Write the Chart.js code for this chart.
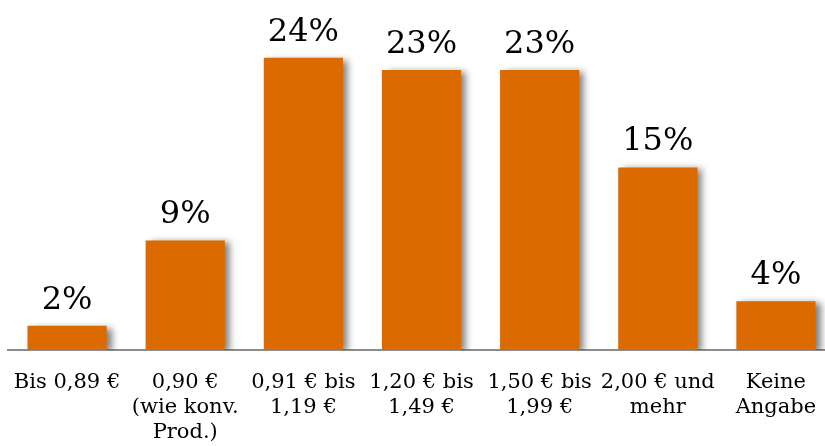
<!DOCTYPE html>
<html>
<head>
<meta charset="utf-8">
<script src="https://cdn.jsdelivr.net/npm/chart.js@4/dist/chart.umd.min.js"></script>
<style>
  html, body { margin: 0; padding: 0; background: #fff; overflow: hidden; }
  #wrap { width: 835px; height: 446px; }
</style>
</head>
<body>
<div id="wrap"><canvas id="chart"></canvas></div>
<script>
// categories (multi-line labels) and shares in percent
const categories = [
  ['Bis 0,89 €'],
  ['0,90 €', '(wie konv.', 'Prod.)'],
  ['0,91 € bis', '1,19 €'],
  ['1,20 € bis', '1,49 €'],
  ['1,50 € bis', '1,99 €'],
  ['2,00 € und', 'mehr'],
  ['Keine', 'Angabe']
];
const shares = [2, 9, 24, 23, 23, 15, 4];

const barColor = '#DB6A00';
const serif = '"DejaVu Serif", "Liberation Serif", serif';

// soft grey shadow behind the bars
const shadowPlugin = {
  id: 'barShadow',
  beforeDatasetsDraw(chart) {
    const ctx = chart.ctx;
    ctx.save();
    ctx.shadowColor = 'rgba(0,0,0,0.5)';
    ctx.shadowBlur = 7;
    ctx.shadowOffsetX = 5;
    ctx.shadowOffsetY = 2;
  },
  afterDatasetsDraw(chart) {
    chart.ctx.restore();
  }
};

// percent labels above each bar
const valueLabels = {
  id: 'valueLabels',
  afterDatasetsDraw(chart) {
    const ctx = chart.ctx;
    const meta = chart.getDatasetMeta(0);
    ctx.save();
    ctx.font = '32px ' + serif;
    ctx.fillStyle = '#000';
    ctx.textAlign = 'center';
    ctx.textBaseline = 'alphabetic';
    meta.data.forEach((bar, i) => {
      ctx.fillText(shares[i] + '%', bar.x, bar.y - 17);
    });
    ctx.restore();
  }
};

new Chart(document.getElementById('chart'), {
  type: 'bar',
  data: {
    labels: categories,
    datasets: [{
      data: shares,
      backgroundColor: barColor,
      borderWidth: 0,
      barPercentage: 0.67,
      categoryPercentage: 1
    }]
  },
  options: {
    responsive: true,
    maintainAspectRatio: false,
    animation: false,
    layout: { padding: { left: 8, right: 0, top: 0, bottom: 0 } },
    plugins: {
      legend: { display: false },
      tooltip: { enabled: false }
    },
    scales: {
      x: {
        grid: { display: false, drawTicks: false },
        border: { display: true, color: '#8c8c8c', width: 2 },
        ticks: {
          color: '#000',
          padding: 20,
          maxRotation: 0,
          autoSkip: false,
          font: { family: serif, size: 21, lineHeight: 1.19 }
        },
        afterFit(scale) {
          scale.height = 96;
          scale.paddingLeft = 0;
          scale.paddingRight = 0;
        }
      },
      y: {
        display: false,
        min: 0,
        max: 28.75
      }
    }
  },
  plugins: [shadowPlugin, valueLabels]
});
</script>
</body>
</html>
